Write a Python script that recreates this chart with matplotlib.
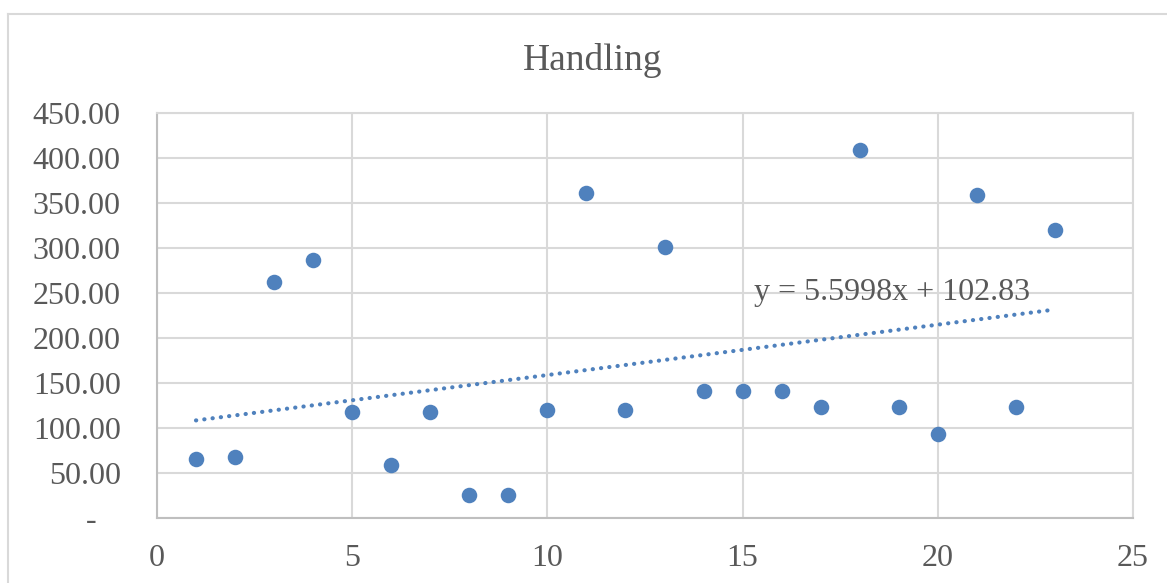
import numpy as np
import matplotlib.pyplot as plt
from matplotlib.lines import Line2D

# Data
x = np.arange(1, 24)
handling = [65, 68, 262, 287, 118, 59, 118, 25, 25, 120, 361, 120, 301,
            141, 141, 141, 123, 409, 123, 93, 359, 123, 320]
slope, intercept = 5.5998, 102.83
y_ticks = [0, 50, 100, 150, 200, 250, 300, 350, 400, 450]
x_ticks = [0, 5, 10, 15, 20, 25]

blue = '#4F81BD'
text_c = '#595959'
grid_c = '#D9D9D9'

plt.rcParams['font.family'] = ['Liberation Serif', 'DejaVu Serif']

fig = plt.figure(figsize=(11.67, 5.83), dpi=100)
ax = fig.add_axes([0.1345, 0.1115, 0.8364, 0.6947])

ax.scatter(x, handling, s=125, color=blue, zorder=3, linewidths=0)
xt = np.array([x[0], x[-1]])
ax.plot(xt, slope * xt + intercept, color=blue, lw=3.0, ls=(0, (0.05, 1.95)),
        dash_capstyle='round', zorder=2)
ax.text(15.3, 250, f"y = {slope}x + {intercept}", fontsize=23, color=text_c,
        va='center', ha='left', zorder=4)

ax.set_xlim(0, 25)
ax.set_ylim(0, 450)
ax.set_xticks(x_ticks)
ax.set_yticks(y_ticks)
ax.set_yticklabels(['-   ' if v == 0 else f"{v:.2f}" for v in y_ticks])
ax.tick_params(length=0, labelsize=23, labelcolor=text_c)
ax.tick_params(axis='x', pad=19)
ax.tick_params(axis='y', pad=26)
ax.grid(True, color=grid_c, lw=1.5)
ax.set_axisbelow(True)
for side in ['top', 'right']:
    ax.spines[side].set_color(grid_c)
    ax.spines[side].set_linewidth(1.5)
for side in ['left', 'bottom']:
    ax.spines[side].set_color('#BFBFBF')
    ax.spines[side].set_linewidth(1.5)

fig.text(0.508, 0.897, "Handling", fontsize=27, color=text_c, ha='center', va='center')

# outer chart frame (partially visible)
fig.add_artist(Line2D([8 / 1167, 8 / 1167], [0, 1 - 14 / 583], color=grid_c, lw=1.5))
fig.add_artist(Line2D([8 / 1167, 1], [1 - 14 / 583, 1 - 14 / 583], color=grid_c, lw=1.5))

fig.savefig("out.png", dpi=100)
